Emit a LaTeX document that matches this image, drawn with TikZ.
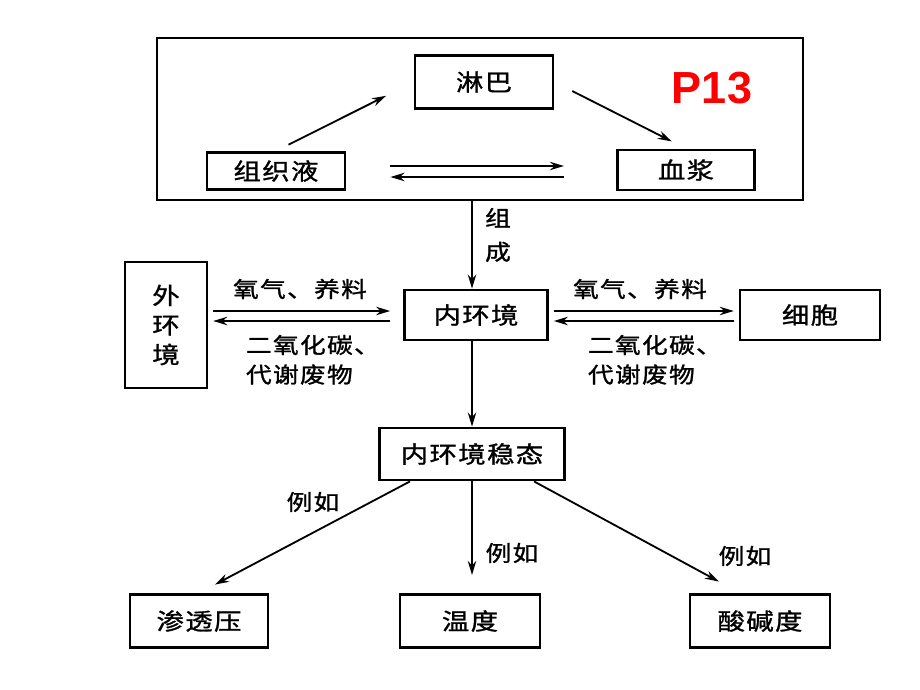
\documentclass[tikz,border=0pt]{standalone}
\usepackage{fontspec}
\newfontfamily\cjk[FakeStretch=1.18, FakeBold=1.2, LetterSpace=6]{Noto Sans CJK SC}
\newfontfamily\latinbold{Liberation Sans}
\usetikzlibrary{arrows.meta}

\tikzset{
  box/.style={draw, line width=2pt, inner sep=0pt, font=\cjk\fontsize{16.5}{19}\selectfont},
  flow/.style={line width=1.3pt, -{Stealth[length=10pt,width=6pt]}},
  lbl/.style={font=\cjk\fontsize{15.5}{21}\selectfont},
}

\begin{document}
\begin{tikzpicture}[x=0.025cm, y=-0.025cm]
    \useasboundingbox (0,0) rectangle (920,690);

    % Top frame: lymph, tissue fluid, plasma
    \node[draw, line width=1.6pt, minimum width=16.15cm, minimum height=4.05cm] (frame) at (480,119) {};
    \node[box, minimum width=3.45cm, minimum height=1.33cm] (lb) at (484,82) {淋巴};
    \node[box, minimum width=3.45cm, minimum height=0.93cm] (zzy) at (276,171) {组织液};
    \node[box, minimum width=3.43cm, minimum height=1.0cm] (xj) at (686,170) {血浆};
    \node[text=red, font=\latinbold\bfseries\fontsize{32}{36}\selectfont] (page) at (712,88) {P13};

    \draw[flow, shorten <=0.35cm, shorten >=0.77cm] (zzy.north) -- (lb.west);
    \draw[flow, shorten <=0.5cm, shorten >=0.4cm] (lb.east) -- (xj.north);
    \draw[flow, shorten <=1.1cm, shorten >=1.3cm] (zzy.east |- 0,166) -- (xj.west |- 0,166);
    \draw[flow, shorten <=1.3cm, shorten >=1.1cm] (xj.west |- 0,177) -- (zzy.east |- 0,177);

    % Middle row
    \node[box, minimum width=2.05cm, minimum height=3.15cm, align=center] (whj) at (166,325) {外\\[2pt]环\\[2pt]境};
    \node[box, minimum width=3.58cm, minimum height=1.25cm] (nhj) at (476,315) {内环境};
    \node[box, minimum width=3.5cm, minimum height=1.25cm] (xb) at (810,315) {细胞};

    \draw[flow] (frame.south -| 472,0) -- (nhj.north -| 472,0);
    \node[lbl, align=center, font=\cjk\fontsize{15.5}{24}\selectfont] (zc) at (498,235) {组\\成};

    \draw[flow, shorten <=0.12cm, shorten >=0.32cm] (whj.east |- 0,311) -- (nhj.west |- 0,311);
    \draw[flow, shorten <=0.32cm, shorten >=0.12cm] (nhj.west |- 0,321) -- (whj.east |- 0,321);
    \draw[flow, shorten <=0.12cm, shorten >=0.12cm] (nhj.east |- 0,311) -- (xb.west |- 0,311);
    \draw[flow, shorten <=0.12cm, shorten >=0.12cm] (xb.west |- 0,321) -- (nhj.east |- 0,321);

    \node[lbl] (in1) at (300,289) {氧气、养料};
    \node[lbl, align=left, anchor=north west] (out1) at (241,330) {二氧化碳、\\代谢废物};
    \node[lbl] (in2) at (640,289) {氧气、养料};
    \node[lbl, align=left, anchor=north west] (out2) at (583,330) {二氧化碳、\\代谢废物};

    % Steady state and examples
    \node[box, minimum width=4.63cm, minimum height=1.3cm] (wt) at (472,454) {内环境稳态};
    \draw[flow] (nhj.south -| 472,0) -- (wt.north);

    \node[box, minimum width=3.45cm, minimum height=1.33cm] (stz) at (199,621) {渗透压};
    \node[box, minimum width=3.5cm, minimum height=1.33cm] (wd) at (470,621) {温度};
    \node[box, minimum width=3.5cm, minimum height=1.33cm] (sjd) at (760,621) {酸碱度};

    \draw[flow, shorten >=0.45cm] ([xshift=0.8cm]wt.south west) -- (stz.north);
    \draw[flow, shorten >=0.45cm] (wt.south) -- (wt.south |- wd.north);
    \draw[flow, shorten >=0.6cm] ([xshift=-0.8cm]wt.south east) -- ([xshift=-0.5cm]sjd.north);

    \node[lbl] (eg1) at (313,502) {例如};
    \node[lbl] (eg2) at (512,553) {例如};
    \node[lbl] (eg3) at (745,556) {例如};
\end{tikzpicture}
\end{document}
